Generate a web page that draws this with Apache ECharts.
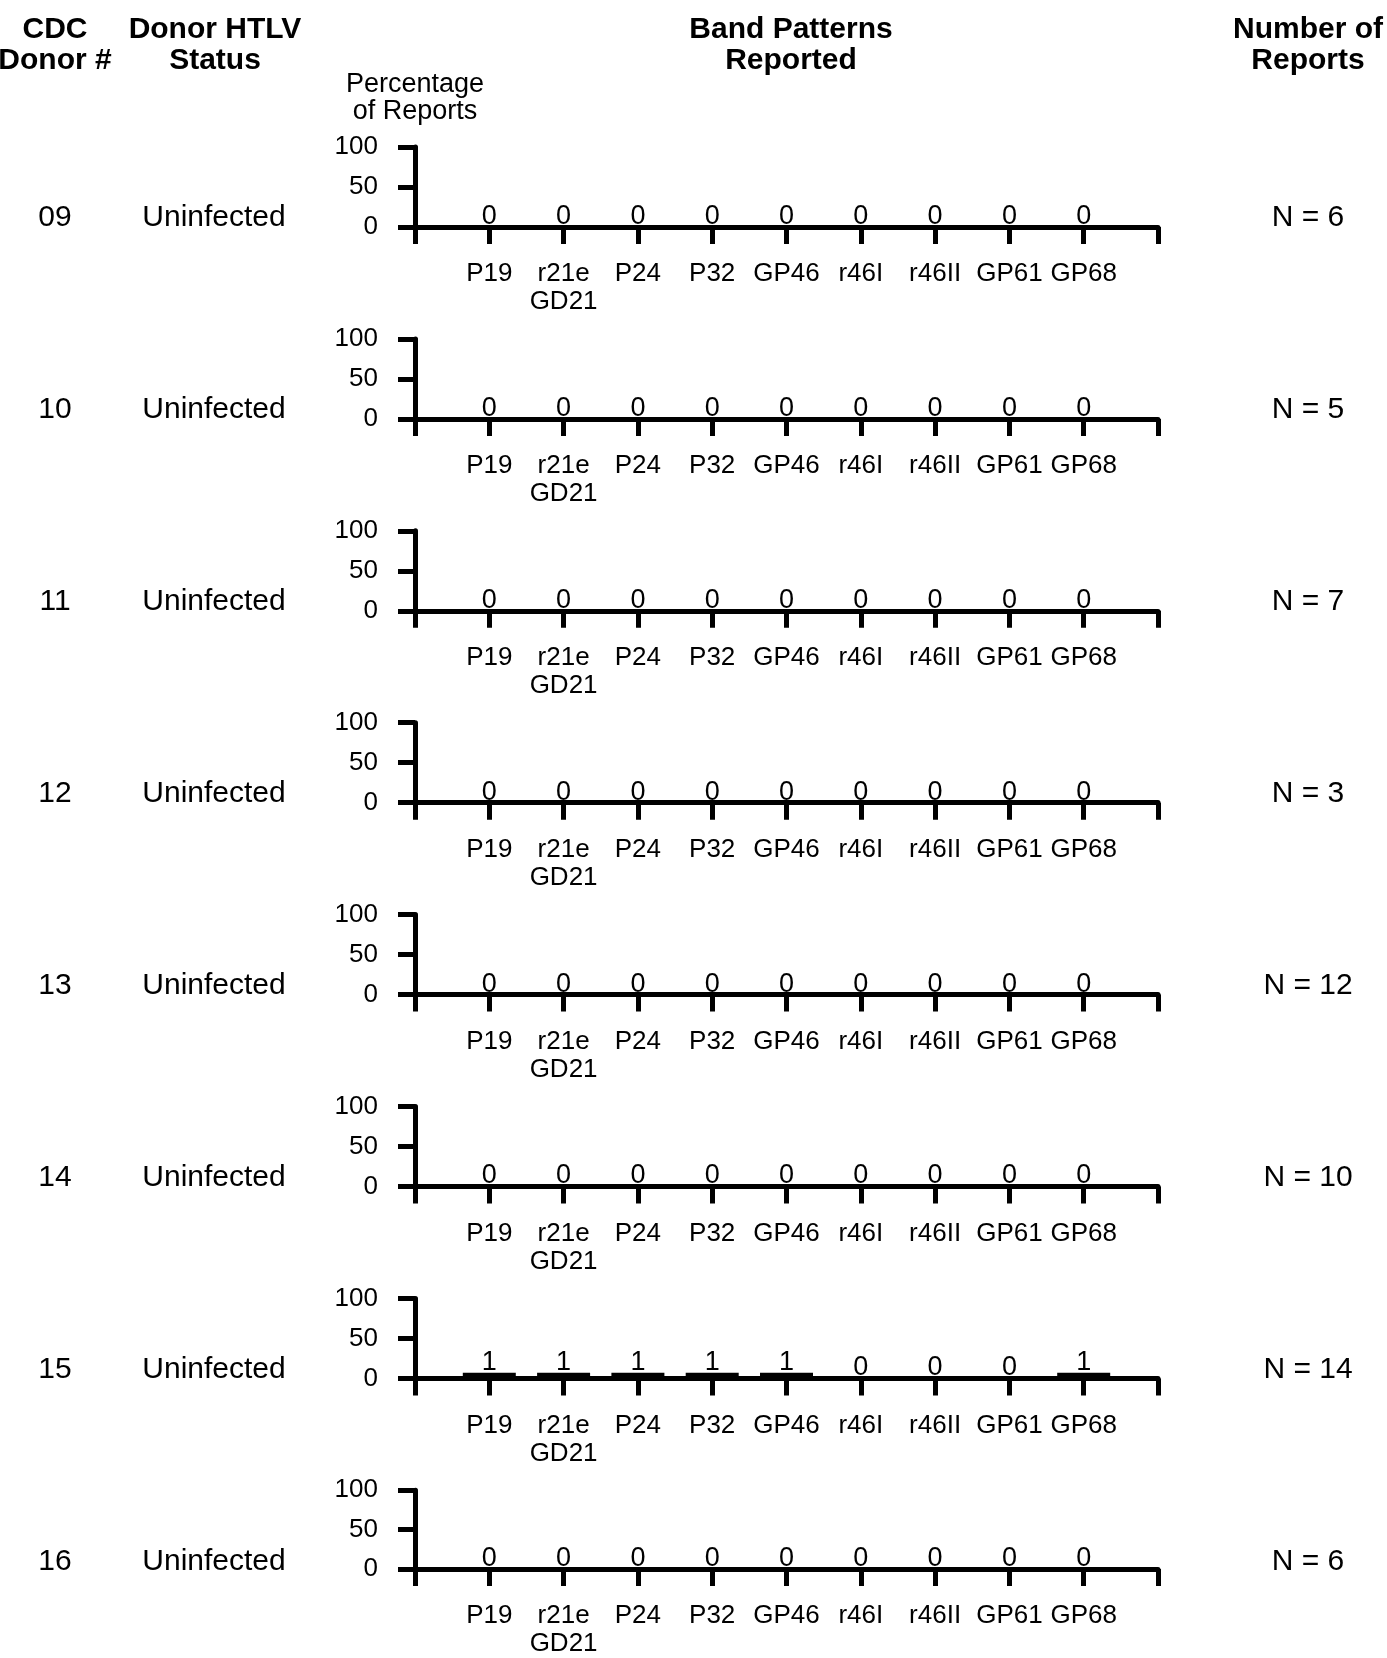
<!DOCTYPE html>
<html>
<head>
<meta charset="utf-8">
<script src="https://cdn.jsdelivr.net/npm/echarts@6/dist/echarts.min.js"></script>
<style>
html,body{margin:0;padding:0;background:#fff;}
#chart{width:1387px;height:1658px;}
</style>
</head>
<body>
<div id="chart"></div>
<script>
// ---- data ----
const bandCategories = ['P19', 'r21e\nGD21', 'P24', 'P32', 'GP46', 'r46I', 'r46II', 'GP61', 'GP68'];
const donorIds = ['09', '10', '11', '12', '13', '14', '15', '16'];
const donorStatus = ['Uninfected', 'Uninfected', 'Uninfected', 'Uninfected', 'Uninfected', 'Uninfected', 'Uninfected', 'Uninfected'];
const reportCounts = [6, 5, 7, 3, 12, 10, 14, 6];
const yTicks = [0, 50, 100];
// number of reports per band (bar labels)
const bandCounts09 = [0, 0, 0, 0, 0, 0, 0, 0, 0];
const bandCounts10 = [0, 0, 0, 0, 0, 0, 0, 0, 0];
const bandCounts11 = [0, 0, 0, 0, 0, 0, 0, 0, 0];
const bandCounts12 = [0, 0, 0, 0, 0, 0, 0, 0, 0];
const bandCounts13 = [0, 0, 0, 0, 0, 0, 0, 0, 0];
const bandCounts14 = [0, 0, 0, 0, 0, 0, 0, 0, 0];
const bandCounts15 = [1, 1, 1, 1, 1, 0, 0, 0, 1];
const bandCounts16 = [0, 0, 0, 0, 0, 0, 0, 0, 0];
// percentage of reports per band (bar heights)
const bandPct09 = [0, 0, 0, 0, 0, 0, 0, 0, 0];
const bandPct10 = [0, 0, 0, 0, 0, 0, 0, 0, 0];
const bandPct11 = [0, 0, 0, 0, 0, 0, 0, 0, 0];
const bandPct12 = [0, 0, 0, 0, 0, 0, 0, 0, 0];
const bandPct13 = [0, 0, 0, 0, 0, 0, 0, 0, 0];
const bandPct14 = [0, 0, 0, 0, 0, 0, 0, 0, 0];
const bandPct15 = [7.1, 7.1, 7.1, 7.1, 7.1, 0, 0, 0, 7.1];
const bandPct16 = [0, 0, 0, 0, 0, 0, 0, 0, 0];

const allCounts = [bandCounts09, bandCounts10, bandCounts11, bandCounts12, bandCounts13, bandCounts14, bandCounts15, bandCounts16];
const allPct = [bandPct09, bandPct10, bandPct11, bandPct12, bandPct13, bandPct14, bandPct15, bandPct16];

// ---- layout ----
const FONT = "'Liberation Sans', Arial, Helvetica, sans-serif";
const gridLeft = 415, gridRight = 1158;
const firstTop = 147, rowStep = 191.9, gridH = 80;
const axisCats = [''].concat(bandCategories, ['']);

const grids = [], xAxes = [], yAxes = [], series = [], graphics = [];

function txt(text, x, y, size, bold, lh) {
  graphics.push({
    type: 'text', x: x, y: y, silent: true,
    style: {
      text: text, fill: '#000', align: 'center', verticalAlign: 'middle',
      font: (bold ? 'bold ' : '') + size + 'px ' + FONT,
      lineHeight: lh || size
    }
  });
}

txt('CDC\nDonor #', 55, 45, 30, true, 31);
txt('Donor HTLV\nStatus', 215, 45, 30, true, 31);
txt('Band Patterns\nReported', 791, 45, 30, true, 31);
txt('Number of\nReports', 1308, 45, 30, true, 31);
txt('Percentage\nof Reports', 415, 98, 27, false, 27);

donorIds.forEach(function (id, i) {
  const top = firstTop + i * rowStep;
  const base = top + gridH;
  grids.push({ left: gridLeft, width: gridRight - gridLeft, top: top, height: gridH, containLabel: false });
  xAxes.push({
    type: 'category', gridIndex: i, data: axisCats, boundaryGap: false,
    axisLine: { show: true, lineStyle: { color: '#000', width: 5 } },
    axisTick: { show: true, length: 17, interval: 0, lineStyle: { color: '#000', width: 5 } },
    axisLabel: { show: true, interval: 0, color: '#000', fontSize: 26, fontFamily: FONT, lineHeight: 28, margin: 33 },
    splitLine: { show: false }
  });
  yAxes.push({
    type: 'value', gridIndex: i, min: yTicks[0], max: yTicks[yTicks.length - 1], interval: yTicks[1] - yTicks[0],
    axisLine: { show: true, lineStyle: { color: '#000', width: 5 } },
    axisTick: { show: true, length: 17, lineStyle: { color: '#000', width: 5 } },
    axisLabel: { show: true, color: '#000', fontSize: 26, fontFamily: FONT, margin: 37, padding: [7, 0, 0, 0] },
    splitLine: { show: false }
  });
  const counts = allCounts[i];
  const data = [null].concat(allPct[i], [null]);
  series.push({
    type: 'bar', xAxisIndex: i, yAxisIndex: i, data: data, barWidth: 53,
    itemStyle: { color: '#000' }, silent: true, animation: false,
    label: {
      show: true, position: 'top', distance: -3, color: '#000', fontSize: 27, fontFamily: FONT,
      formatter: function (p) { return String(counts[p.dataIndex - 1]); }
    }
  });
  txt(id, 55, base - 9, 30, false);
  txt(donorStatus[i], 214, base - 9, 30, false);
  txt('N = ' + reportCounts[i], 1308, base - 9, 30, false);
});

const chart = echarts.init(document.getElementById('chart'), null, { renderer: 'canvas' });
chart.setOption({
  backgroundColor: '#fff',
  animation: false,
  grid: grids,
  xAxis: xAxes,
  yAxis: yAxes,
  series: series,
  graphic: graphics
});
</script>
</body>
</html>
